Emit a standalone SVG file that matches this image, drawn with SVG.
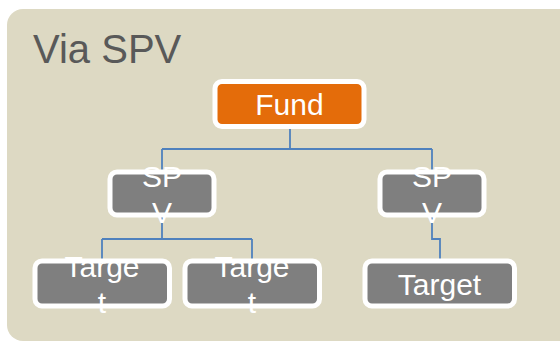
<svg xmlns="http://www.w3.org/2000/svg" width="560" height="342" viewBox="0 0 560 342">
<style>
.box{stroke:#FFFFFF;stroke-width:5}
.fund{fill:#E46C0A}
.grey{fill:#7F7F7F}
.lbl{font-family:"Liberation Sans",Arial,sans-serif;font-size:30px;fill:#FFFFFF;text-anchor:middle}
.conn{fill:none;stroke:#4F81BD;stroke-width:1.8}
</style>
<rect x="7" y="9" width="600" height="332" rx="16" fill="#DDD9C3"/>
<text x="33" y="63" font-family="'Liberation Sans',Arial,sans-serif" font-size="40" fill="#595959">Via SPV</text>
<g id="connectors">
<path class="conn" d="M290 128 V149 M162 149 H432 M162 149 V172 M432 149 V172"/>
<path class="conn" d="M162 217 V239 M102 239 H252 M102 239 V261 M252 239 V261"/>
<path class="conn" d="M432 217 V239 H440 V261"/>
</g>
<g id="fund">
<rect class="box fund" x="215" y="81.5" width="149" height="45" rx="7"/>
<text class="lbl" x="289.5" y="115">Fund</text>
</g>
<g id="spv1">
<rect class="box grey" x="110" y="172" width="104" height="43" rx="7"/>
<text class="lbl" x="162" y="186.5">SP</text>
<text class="lbl" x="162" y="222.5">V</text>
</g>
<g id="spv2">
<rect class="box grey" x="380" y="172" width="104" height="43" rx="7"/>
<text class="lbl" x="432" y="186.5">SP</text>
<text class="lbl" x="432" y="222.5">V</text>
</g>
<g id="target1">
<rect class="box grey" x="35" y="261" width="134.5" height="45" rx="7"/>
<text class="lbl" x="102" y="277">Targe</text>
<text class="lbl" x="102" y="313">t</text>
</g>
<g id="target2">
<rect class="box grey" x="185" y="261" width="134.5" height="45" rx="7"/>
<text class="lbl" x="252" y="277">Targe</text>
<text class="lbl" x="252" y="313">t</text>
</g>
<g id="target3">
<rect class="box grey" x="365" y="261" width="149.5" height="45" rx="7"/>
<text class="lbl" x="439.5" y="295">Target</text>
</g>
</svg>
